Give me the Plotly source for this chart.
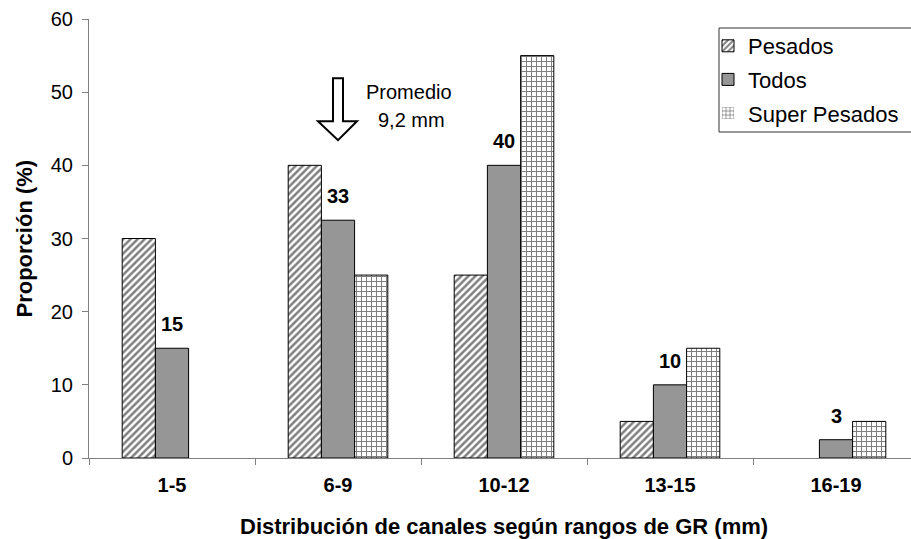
import plotly.graph_objects as go

# Channel-size ranges and proportions (%) per group
categories = ["1-5", "6-9", "10-12", "13-15", "16-19"]
pesados = [30, 40, 25, 5, 0]
todos = [15, 32.5, 40, 10, 2.5]
super_pesados = [0, 25, 55, 15, 5]

FONT = "Liberation Sans, Arial, sans-serif"
AXIS_GRAY = "#808080"

W, H = 911, 539
L, R, T, B = 89, 0, 19, 81
plot_w = W - L - R
plot_h = H - T - B
cat_px = 166  # width of one category band in pixels


def outline(values):
    # no outline on empty bars so nothing is drawn on the baseline
    return [0 if v == 0 else 1 for v in values]


fig = go.Figure()
fig.add_trace(go.Bar(
    x=categories, y=pesados, name="Pesados", legendgroup="a",
    marker=dict(color="white", line=dict(color="black", width=outline(pesados)),
                pattern=dict(shape="/", fgcolor="black", bgcolor="white",
                             size=5, solidity=0.5)),
))
fig.add_trace(go.Bar(
    x=categories, y=todos, name="Todos", legendgroup="b",
    marker=dict(color="#969696", line=dict(color="black", width=outline(todos))),
))
fig.add_trace(go.Bar(
    x=categories, y=super_pesados, name="Super Pesados", legendgroup="c",
    marker=dict(color="white", line=dict(color="black", width=outline(super_pesados)),
                pattern=dict(shape="+", fgcolor="black", bgcolor="white",
                             size=5, solidity=0.36)),
))


def round_half_up(v):
    return int(v + 0.5)


annotations = []
# value labels above the "Todos" bars
for c, v in zip(categories, todos):
    annotations.append(dict(
        x=c, y=v, xref="x", yref="y", text=str(round_half_up(v)),
        showarrow=False, yshift=24,
        font=dict(family=FONT, size=20, color="black", weight="bold"),
    ))

# mean marker text next to the arrow
annotations.append(dict(x=1, y=50, xref="x", yref="y", text="Promedio",
                        showarrow=False, xshift=71,
                        font=dict(family=FONT, size=20, color="black")))
annotations.append(dict(x=1, y=50, xref="x", yref="y", text="9,2 mm",
                        showarrow=False, xshift=73, yshift=-28,
                        font=dict(family=FONT, size=20, color="black")))

# axis titles
annotations.append(dict(
    x=(504 - L) / plot_w, y=(H - B - 526) / plot_h, xref="paper", yref="paper",
    text="Distribución de canales según rangos de GR (mm)", showarrow=False,
    xanchor="center", yanchor="middle",
    font=dict(family=FONT, size=22, color="black", weight="bold"),
))
annotations.append(dict(
    x=(24 - L) / plot_w, y=0.5, xref="paper", yref="paper",
    text="Proporción (%)", showarrow=False, textangle=-90,
    xanchor="center", yanchor="middle",
    font=dict(family=FONT, size=22, color="black", weight="bold"),
))

shapes = [
    # hollow down arrow marking the mean
    dict(type="path", xref="x", yref="y", xsizemode="pixel", ysizemode="pixel",
         xanchor=1, yanchor=50,
         path="M -5,14 L 5,14 L 5,-29 L 19,-29 L 0,-48 L -20,-29 L -5,-29 Z",
         fillcolor="white", line=dict(color="black", width=2)),
    # legend frame
    dict(type="rect", xref="paper", yref="paper",
         x0=(719 - L) / plot_w, x1=1.05,
         y0=(H - B - 132) / plot_h, y1=(H - B - 28) / plot_h,
         line=dict(color="#333333", width=1), fillcolor="rgba(0,0,0,0)",
         layer="above"),
]

fig.update_layout(
    width=W, height=H,
    margin=dict(l=L, r=R, t=T, b=B, autoexpand=False),
    paper_bgcolor="white", plot_bgcolor="white",
    barmode="group", bargap=0.4, bargroupgap=0,
    font=dict(family=FONT, color="black"),
    showlegend=True,
    legend=dict(
        x=(708 - L) / plot_w, y=(H - B - 25) / plot_h,
        xanchor="left", yanchor="top",
        bgcolor="rgba(0,0,0,0)", borderwidth=0,
        font=dict(family=FONT, size=22, color="black"),
        tracegroupgap=2, traceorder="grouped",
    ),
    xaxis=dict(
        type="category", range=[-0.5, 4.5 - 8 / cat_px],
        tickson="boundaries", ticks="outside", ticklen=6, tickcolor=AXIS_GRAY,
        showline=True, linecolor=AXIS_GRAY, linewidth=1, showgrid=False,
        tickfont=dict(family=FONT, size=20, color="black", weight="bold"),
        ticklabelstandoff=9,
    ),
    yaxis=dict(
        range=[0, 60], dtick=10, ticks="outside", ticklen=6, tickcolor=AXIS_GRAY,
        showline=True, linecolor=AXIS_GRAY, linewidth=1, showgrid=False,
        zeroline=False,
        tickfont=dict(family=FONT, size=20, color="black"),
        ticklabelstandoff=5,
    ),
    annotations=annotations,
    shapes=shapes,
)

fig.write_html("out.html")
